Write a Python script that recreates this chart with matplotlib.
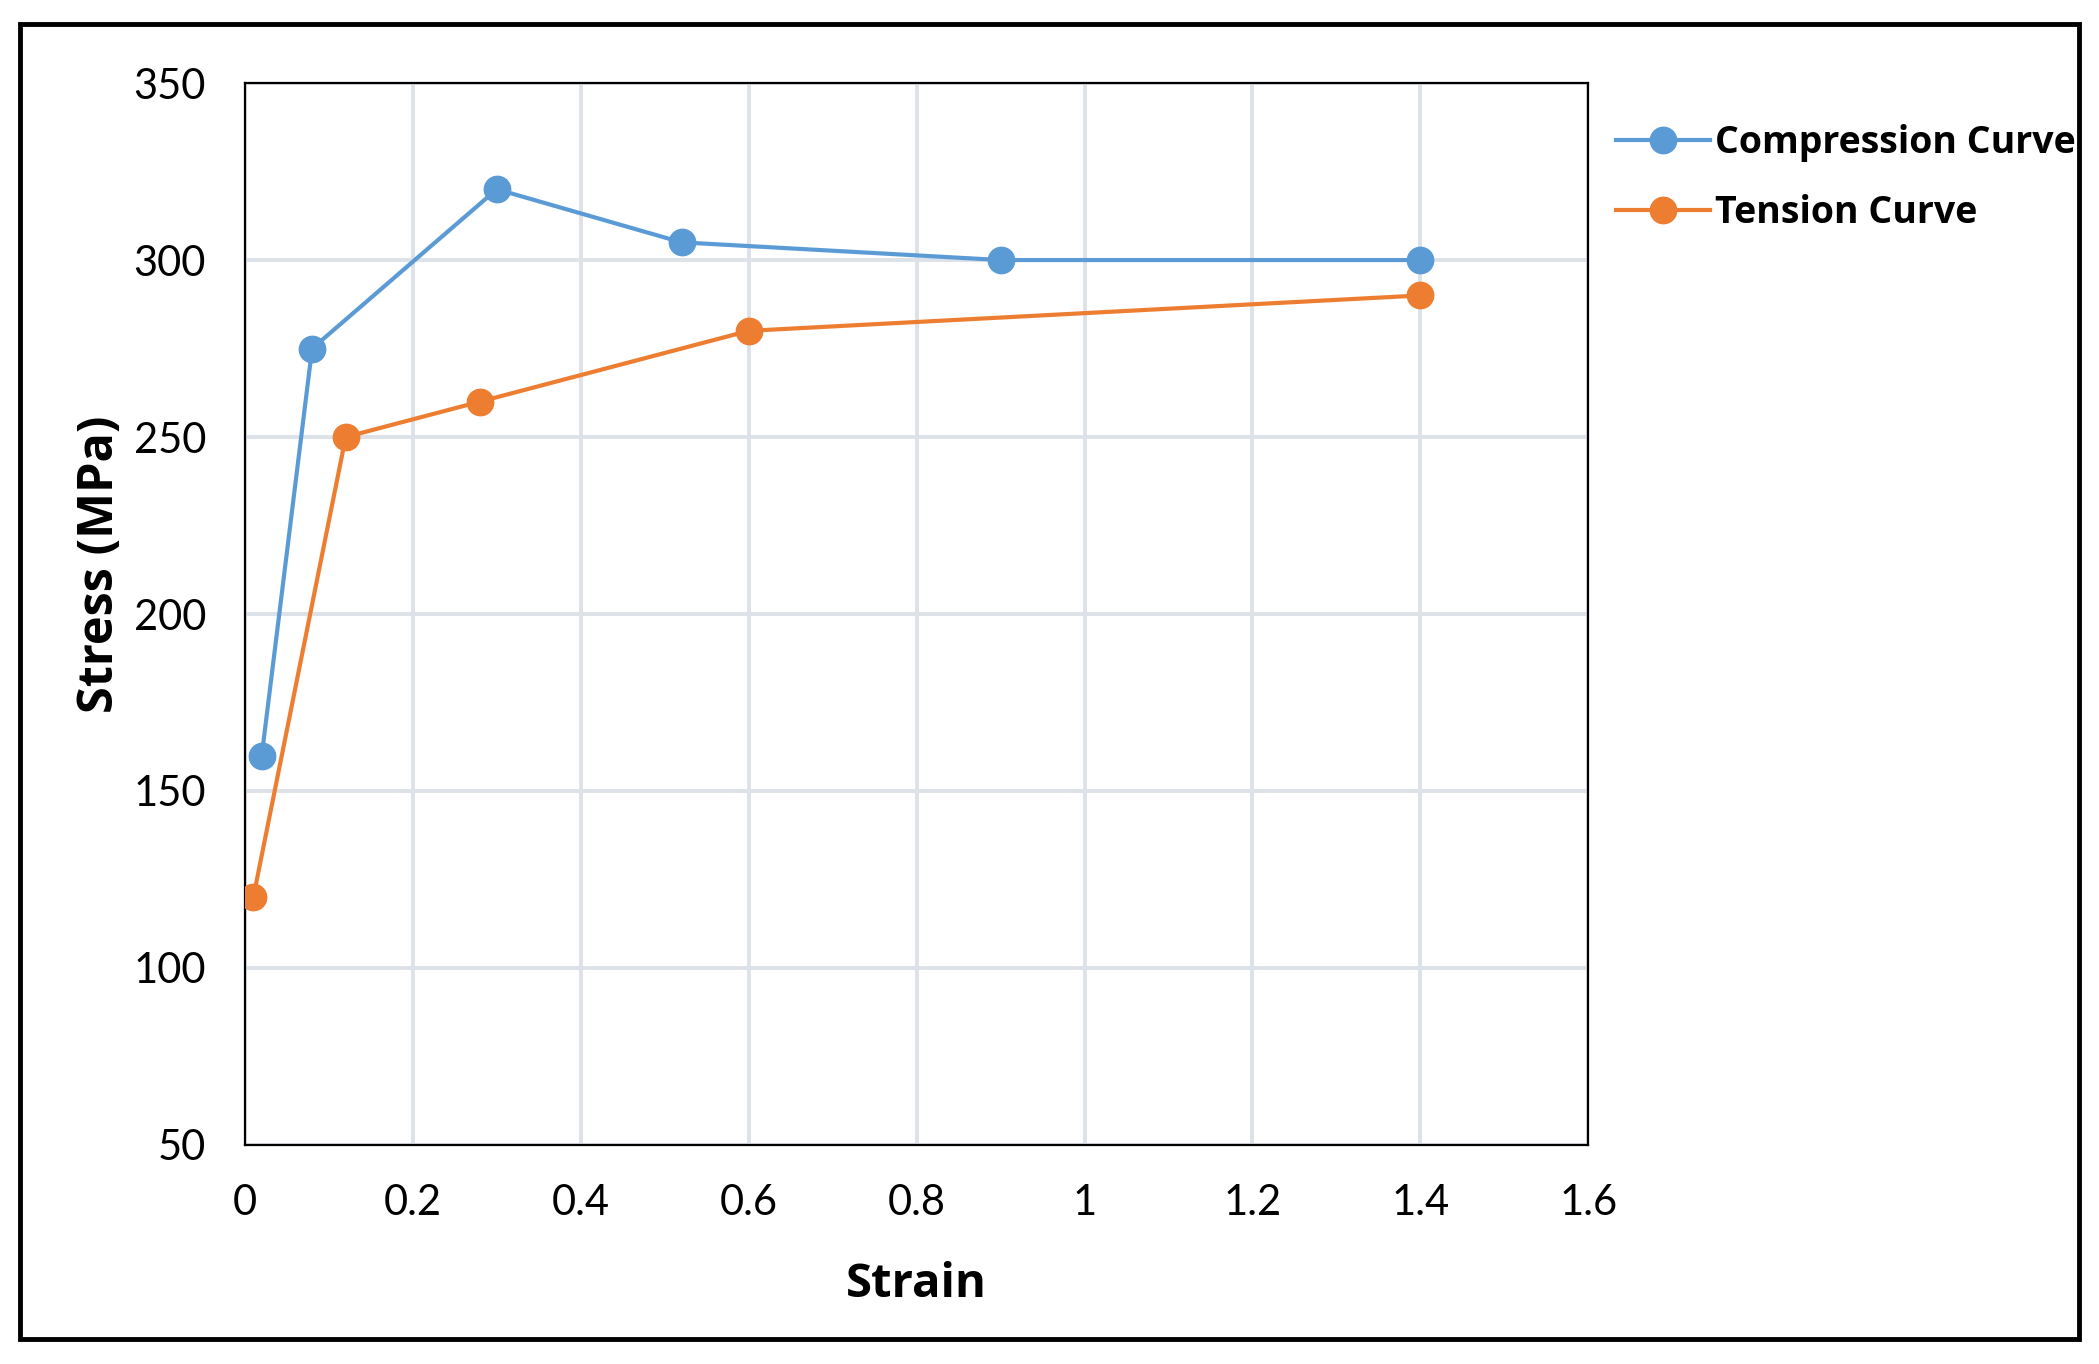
import matplotlib
matplotlib.use("Agg")
import matplotlib.pyplot as plt
from matplotlib import font_manager as fm
from matplotlib.patches import Rectangle

comp_strain = [0.02, 0.08, 0.30, 0.52, 0.90, 1.40]
comp_stress = [160, 275, 320, 305, 300, 300]
tens_strain = [0.01, 0.12, 0.28, 0.60, 1.40]
tens_stress = [120, 250, 260, 280, 290]
x_ticks = [0, 0.2, 0.4, 0.6, 0.8, 1.0, 1.2, 1.4, 1.6]
x_tick_labels = ["0", "0.2", "0.4", "0.6", "0.8", "1", "1.2", "1.4", "1.6"]
y_ticks = [50, 100, 150, 200, 250, 300, 350]

names = {f.name for f in fm.fontManager.ttflist}
tick_family = ["Liberation Sans Narrow", "DejaVu Sans"] if "Liberation Sans Narrow" in names else ["Lato", "DejaVu Sans"]
bold_family = ["Open Sans", "DejaVu Sans"]

BLUE = "#5B9BD5"
ORANGE = "#ED7D31"

fig = plt.figure(figsize=(20.99, 13.64), dpi=100)
ax = fig.add_axes([0.1167, 0.1606, 0.64, 0.7785])

ax.plot(comp_strain, comp_stress, color=BLUE, lw=3.0, marker="o", ms=19,
        mfc=BLUE, mec=BLUE, label="Compression Curve", zorder=3)
ax.plot(tens_strain, tens_stress, color=ORANGE, lw=3.0, marker="o", ms=19,
        mfc=ORANGE, mec=ORANGE, label="Tension Curve", zorder=3)

ax.set_xlim(0, 1.6)
ax.set_ylim(50, 350)
ax.set_xticks(x_ticks)
ax.set_xticklabels(x_tick_labels)
ax.set_yticks(y_ticks)
ax.grid(True, color="#DDE1E8", lw=2.8, zorder=0)
ax.set_axisbelow(True)
for s in ax.spines.values():
    s.set_color("black")
    s.set_linewidth(1.6)
ax.tick_params(length=0, pad=28, labelsize=30)
for lab in ax.get_xticklabels() + ax.get_yticklabels():
    lab.set_family(tick_family)
ax.tick_params(axis="x", pad=28)

ax.set_xlabel("Strain", fontsize=34, fontweight="bold", family=bold_family, labelpad=28)
ax.set_ylabel("Stress (MPa)", fontsize=35, fontweight="bold", family=bold_family)
ax.yaxis.set_label_coords(-0.089, 0.547)

leg = fig.legend(loc="upper left", bbox_to_anchor=(0.754, 0.934), frameon=False,
                 handlelength=2.5, handletextpad=0.12, labelspacing=0.85,
                 prop={"family": bold_family, "weight": "bold", "size": 27})

fig.patches.append(Rectangle((0.0095, 0.018), 0.981, 0.9645, transform=fig.transFigure,
                             fill=False, edgecolor="black", lw=3.5))

fig.savefig("out.png", dpi=100, facecolor="white")
